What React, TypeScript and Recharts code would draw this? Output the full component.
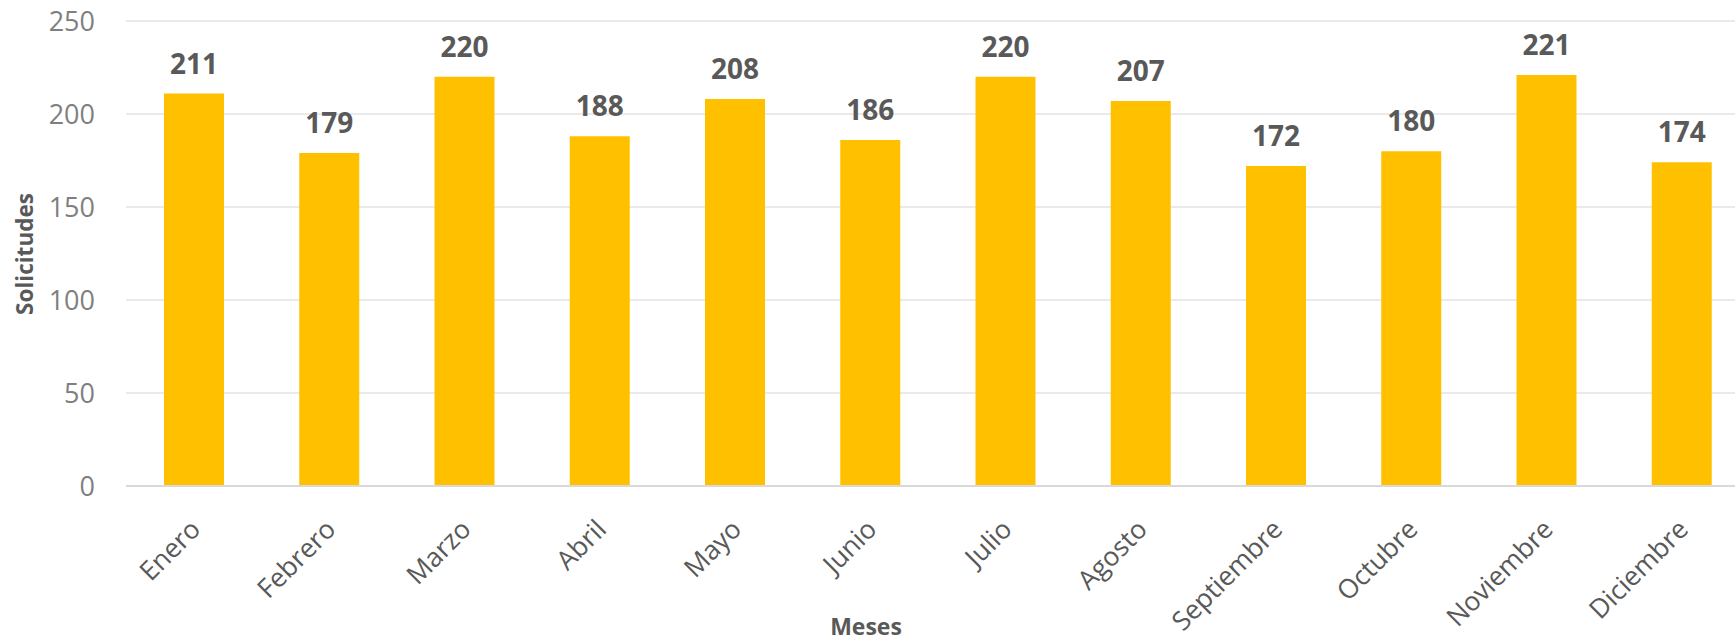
import React from "react";
import { BarChart, Bar, XAxis, YAxis, CartesianGrid, LabelList } from "recharts";

const months = ["Enero", "Febrero", "Marzo", "Abril", "Mayo", "Junio", "Julio", "Agosto", "Septiembre", "Octubre", "Noviembre", "Diciembre"];
const solicitudes = [211, 179, 220, 188, 208, 186, 220, 207, 172, 180, 221, 174];
const yTicks = [0, 50, 100, 150, 200, 250];

const data = months.map((m, i) => ({ mes: m, solicitudes: solicitudes[i] }));

const FONT = "'Open Sans', sans-serif";

const XTick = (props: any) => {
  const { x, y, payload } = props;
  const ax = x + 8.5;
  const ay = y + 45;
  return (
    <text
      x={ax}
      y={ay}
      textAnchor="end"
      transform={`rotate(-45, ${ax}, ${ay})`}
      fill="#595959"
      fontSize={26.5}
      fontFamily={FONT}
    >
      {payload.value}
    </text>
  );
};

export default function App() {
  return (
    <div style={{ position: "fixed", left: 0, top: 0, width: 1735, height: 642, overflow: "hidden", background: "#fff" }}>
      <BarChart width={1749} height={642} data={data} margin={{ top: 21, right: 0, bottom: 0, left: 0 }}>
        <CartesianGrid vertical={false} stroke="#E3E3E3" strokeWidth={1.5} />
        <XAxis
          dataKey="mes"
          height={156}
          tickLine={false}
          tickSize={0}
          tickMargin={0}
          axisLine={{ stroke: "#D9D9D9", strokeWidth: 2 }}
          tick={<XTick />}
          interval={0}
          label={{
            content: () => (
              <text x={866} y={635} textAnchor="middle" fill="#595959" fontSize={23} fontWeight="bold" fontFamily={FONT}>
                Meses
              </text>
            ),
          }}
        />
        <YAxis
          width={126}
          domain={[0, 250]}
          ticks={yTicks}
          axisLine={false}
          tickLine={false}
          tickSize={0}
          tickMargin={31}
          tick={{ fill: "#7F7F7F", fontSize: 27, fontFamily: FONT }}
          label={{
            content: () => (
              <text x={33} y={254} textAnchor="middle" transform="rotate(-90, 33, 254)" fill="#595959" fontSize={22.5} fontWeight="bold" fontFamily={FONT}>
                Solicitudes
              </text>
            ),
          }}
        />
        <Bar dataKey="solicitudes" fill="#FFC000" barSize={60} isAnimationActive={false}>
          <LabelList dataKey="solicitudes" position="top" offset={20} fill="#595959" fontSize={28} fontWeight="bold" fontFamily={FONT} />
        </Bar>
      </BarChart>
    </div>
  );
}
